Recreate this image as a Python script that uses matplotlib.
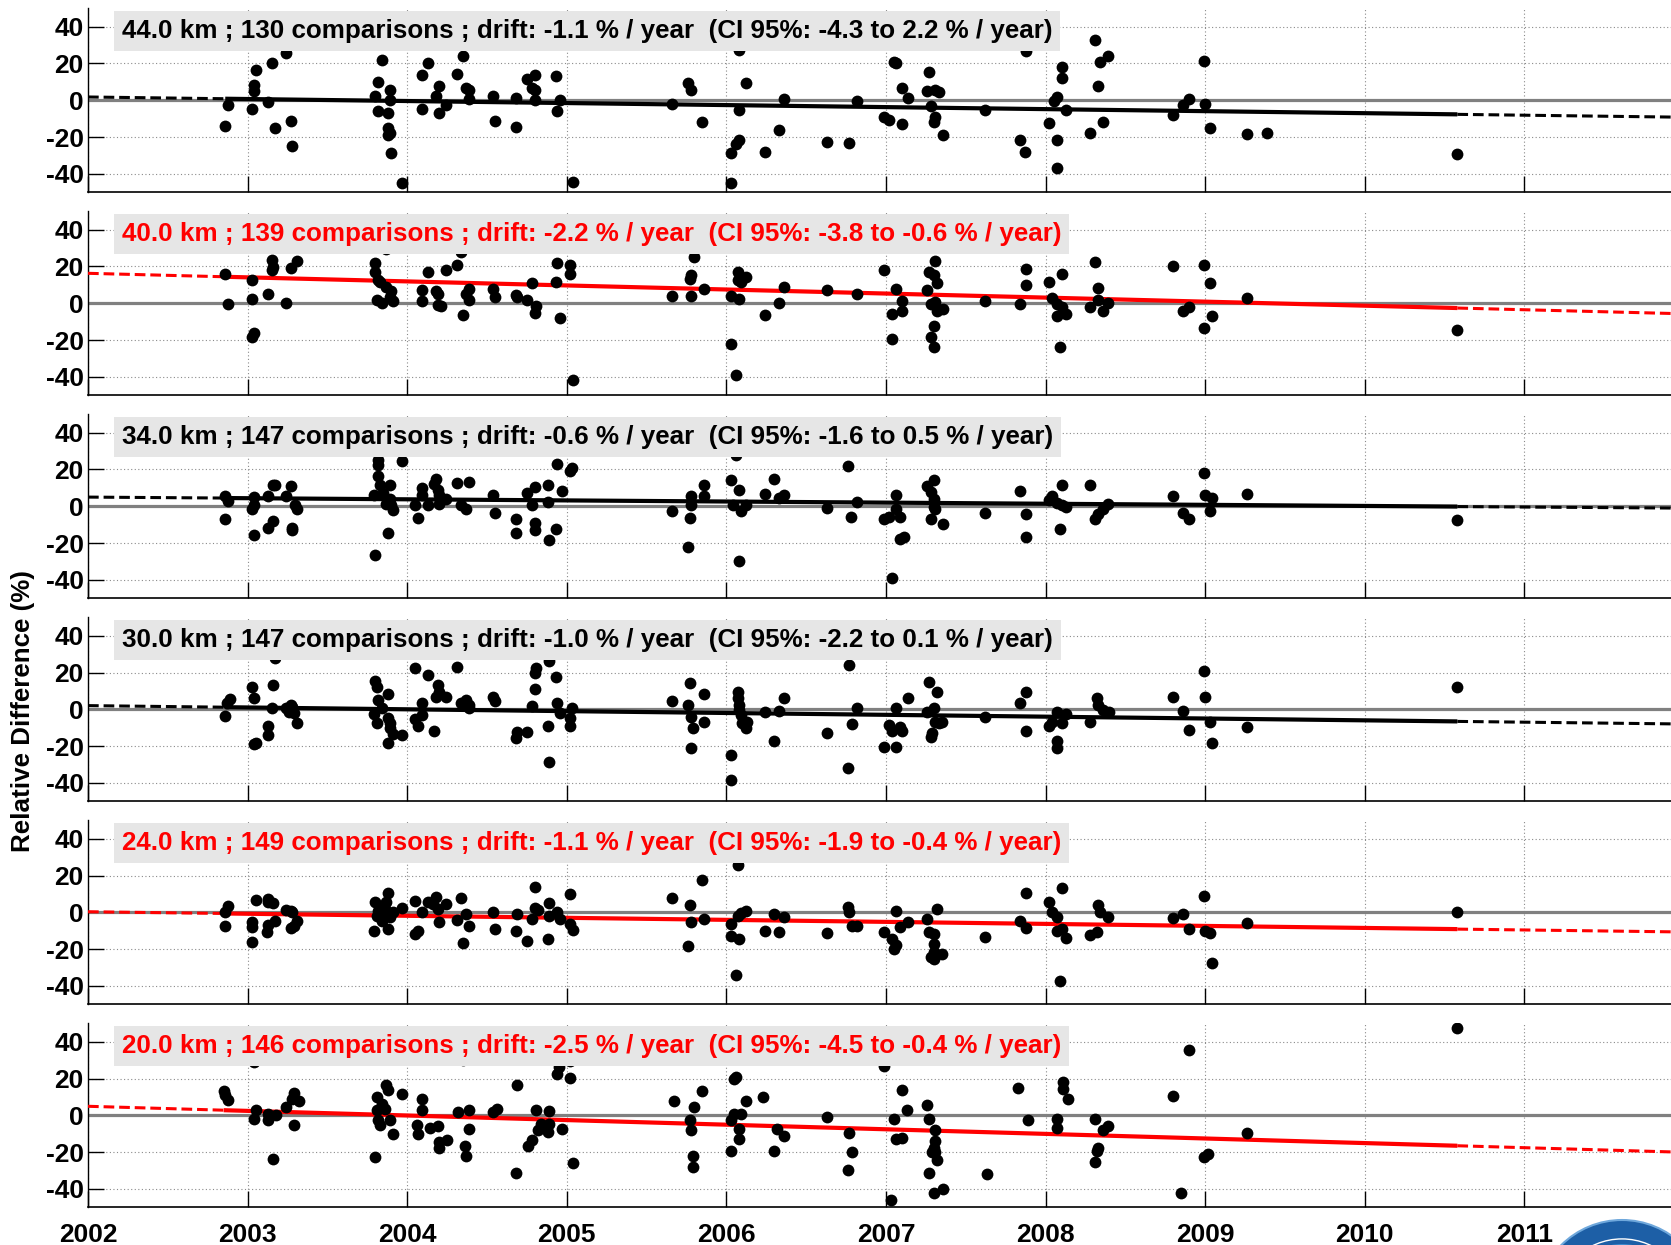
import numpy as np
import matplotlib
matplotlib.use("Agg")
import matplotlib.pyplot as plt
from matplotlib.patches import Circle

plt.rcParams["font.family"] = ["Liberation Sans", "DejaVu Sans"]
plt.rcParams["font.weight"] = "bold"

# ---------------------------------------------------------------- data
altitudes = [44.0, 40.0, 34.0, 30.0, 24.0, 20.0]
n_comparisons = [130, 139, 147, 147, 149, 146]
drift = [-1.1, -2.2, -0.6, -1.0, -1.1, -2.5]          # % / year
ci_low = [-4.3, -3.8, -1.6, -2.2, -1.9, -4.5]
ci_high = [2.2, -0.6, 0.5, 0.1, -0.4, -0.4]
fit_offset = [1.8, 16.3, 5.0, 2.0, 0.3, 4.9]          # fitted value at 2002.0

year_ticks = list(range(2002, 2012))
y_ticks = [-40, -20, 0, 20, 40]

t44 = [2002.86, 2002.88, 2003.03, 2003.04, 2003.04, 2003.05, 2003.13, 2003.15, 2003.17, 2003.24, 2003.27, 2003.28,
       2003.80, 2003.82, 2003.84, 2003.82, 2003.88, 2003.89, 2003.89, 2003.88, 2003.88, 2003.89, 2003.90, 2003.97,
       2004.09, 2004.09, 2004.13, 2004.18, 2004.20, 2004.20, 2004.24, 2004.31, 2004.35, 2004.37, 2004.39, 2004.39,
       2004.54, 2004.55, 2004.68, 2004.68, 2004.75, 2004.80, 2004.78, 2004.80, 2004.80, 2004.93, 2004.96, 2004.94, 2005.04,
       2005.66, 2005.76, 2005.78, 2005.85,
       2006.08, 2006.03, 2006.06, 2006.08, 2006.08, 2006.03, 2006.12, 2006.24, 2006.33, 2006.36, 2006.63, 2006.77, 2006.82,
       2006.99, 2007.02, 2007.05, 2007.06, 2007.10, 2007.10, 2007.14, 2007.27, 2007.26, 2007.31, 2007.33, 2007.28, 2007.31, 2007.30, 2007.36,
       2007.62, 2007.84, 2007.87, 2007.88, 2008.02, 2008.05, 2008.07, 2008.07, 2008.07, 2008.10, 2008.10, 2008.13,
       2008.28, 2008.31, 2008.34, 2008.39, 2008.33, 2008.36, 2008.80, 2008.86, 2008.90, 2008.99, 2009.00, 2009.03, 2009.26, 2009.39, 2010.58]
d44 = [-14.1, -2.4, -4.9, 5.1, 8.5, 16.7, -0.9, 20.1, -15.0, 25.9, -11.2, -24.8,
       2.2, -6.0, 21.7, 10.0, -6.7, 5.4, 0.0, -15.0, -19.0, -17.6, -28.4, -45.0,
       -4.7, 13.6, 20.0, 2.4, 7.8, -6.9, -2.7, 14.1, 23.9, 6.9, 5.8, 0.5,
       2.4, -11.2, 1.3, -14.5, 11.8, 13.6, 6.9, 5.4, 0.0, 13.2, 0.4, -6.0, -44.4,
       -2.2, 9.4, 5.8, -11.8,
       27.5, -28.4, -23.6, -21.4, -5.1, -45.0, 9.6, -28.1, -16.3, 0.5, -22.5, -23.4, -0.5,
       -9.0, -10.5, 20.8, 20.0, -12.7, 6.9, 1.4, 15.4, 5.1, 5.4, 4.5, -3.3, -9.0, -11.8, -18.8,
       -5.4, -21.7, -28.1, 26.6, -12.1, -0.5, 1.8, -21.7, -36.6, 18.1, 12.3, -5.1,
       -17.6, 33.0, 20.7, 23.9, 7.6, -12.0, -7.8, -2.4, 0.5, 21.6, -2.2, -15.0, -18.1, -17.8, -29.3]

t40 = [2002.86, 2002.88, 2003.03, 2003.03, 2003.03, 2003.04, 2003.13, 2003.15, 2003.16, 2003.15, 2003.24, 2003.27, 2003.31,
       2003.80, 2003.80, 2003.82, 2003.81, 2003.84, 2003.83, 2003.87, 2003.87, 2003.89, 2003.90, 2003.91,
       2004.09, 2004.09, 2004.13, 2004.18, 2004.19, 2004.19, 2004.21, 2004.24, 2004.31, 2004.34, 2004.35, 2004.37, 2004.39, 2004.39,
       2004.54, 2004.55, 2004.68, 2004.69, 2004.75, 2004.78, 2004.81, 2004.80, 2004.94, 2004.93, 2004.96, 2005.02, 2005.02, 2005.04,
       2005.66, 2005.77, 2005.78, 2005.80, 2005.78, 2005.86,
       2006.03, 2006.03, 2006.06, 2006.07, 2006.07, 2006.08, 2006.09, 2006.12, 2006.24, 2006.33, 2006.36, 2006.63, 2006.82,
       2006.99, 2007.04, 2007.04, 2007.06, 2007.10, 2007.10, 2007.26, 2007.27, 2007.31, 2007.30, 2007.32, 2007.28, 2007.31, 2007.32, 2007.36, 2007.28, 2007.30, 2007.30,
       2007.62, 2007.84, 2007.88, 2007.88, 2008.02, 2008.04, 2008.07, 2008.10, 2008.07, 2008.09, 2008.10, 2008.13,
       2008.28, 2008.31, 2008.33, 2008.33, 2008.36, 2008.39, 2008.80, 2008.86, 2008.90, 2008.99, 2008.99, 2009.03, 2009.04, 2009.26, 2010.58]
d40 = [15.7, -0.4, 12.8, 2.4, -18.3, -16.3, 5.1, 23.4, 19.7, 17.9, 0.0, 19.4, 22.9,
       21.9, 17.0, 12.8, 1.8, 0.0, 11.5, 29.3, 9.1, 3.3, 6.9, 1.5,
       7.3, 1.1, 17.0, 6.9, 5.1, -0.9, -1.3, 18.3, 20.7, 28.0, -6.2, 5.1, 7.9, 2.0,
       7.9, 3.3, 4.6, 3.3, 1.8, 11.0, -1.3, -5.5, 22.1, 11.5, -8.0, 20.7, 15.7, -41.5,
       4.2, 13.3, 4.2, 25.2, 15.2, 7.9,
       3.7, -22.3, -39.1, 17.0, 12.8, 2.4, 11.5, 14.3, -6.2, 0.0, 8.8, 7.3, 5.1,
       18.3, -5.9, -19.2, 7.9, 1.1, -4.0, 7.3, 17.0, 22.9, 15.2, 11.0, -0.4, 0.5, -4.0, -3.1, -18.3, -12.2, -23.8,
       1.1, -0.4, 9.7, 18.5, 11.5, 2.9, -0.4, 15.7, -6.8, -23.8, -1.8, -5.9,
       -1.8, 22.5, 8.4, 1.8, -4.0, 0.0, 20.1, -4.0, -2.2, 20.7, -13.2, 11.0, -6.8, 2.9, -14.4]

t34 = [2002.86, 2002.86, 2002.88, 2003.03, 2003.04, 2003.04, 2003.04, 2003.13, 2003.13, 2003.16, 2003.16, 2003.17, 2003.24, 2003.27, 2003.28, 2003.28, 2003.30, 2003.31,
       2003.79, 2003.80, 2003.82, 2003.82, 2003.82, 2003.83, 2003.85, 2003.88, 2003.89, 2003.87, 2003.89, 2003.90, 2003.91, 2003.97,
       2004.05, 2004.07, 2004.09, 2004.09, 2004.13, 2004.17, 2004.18, 2004.19, 2004.20, 2004.20, 2004.24, 2004.31, 2004.34, 2004.37, 2004.39,
       2004.54, 2004.55, 2004.68, 2004.68, 2004.75, 2004.78, 2004.80, 2004.80, 2004.80, 2004.88, 2004.88, 2004.89, 2004.93, 2004.94, 2004.97, 2005.02, 2005.03,
       2005.66, 2005.76, 2005.77, 2005.78, 2005.78, 2005.86, 2005.86,
       2006.03, 2006.04, 2006.06, 2006.08, 2006.08, 2006.09, 2006.12, 2006.24, 2006.30, 2006.33, 2006.36, 2006.63, 2006.76, 2006.78, 2006.82,
       2006.99, 2007.02, 2007.04, 2007.06, 2007.06, 2007.09, 2007.11, 2007.09, 2007.26, 2007.28, 2007.30, 2007.30, 2007.30, 2007.28, 2007.31, 2007.36,
       2007.62, 2007.84, 2007.88, 2007.88, 2008.02, 2008.04, 2008.07, 2008.09, 2008.10, 2008.10, 2008.13,
       2008.28, 2008.31, 2008.33, 2008.36, 2008.39, 2008.80, 2008.86, 2008.90, 2008.99, 2009.00, 2009.03, 2009.04, 2009.26, 2010.58]
d34 = [-7.1, 5.6, 2.7, -1.3, 5.1, 0.9, -15.4, 5.6, -11.8, -8.2, 11.4, 11.4, 5.6, 11.1, -11.8, -13.1, 0.5, -1.3,
       6.0, -26.7, 25.0, 22.7, 16.3, 11.4, 7.4, -14.5, 11.4, 1.5, 4.2, 0.5, -1.8, 24.5,
       0.5, -6.4, 10.0, 6.4, 0.9, 12.3, 15.1, 8.7, 6.4, 1.5, 3.8, 12.9, 0.9, -1.6, 13.2,
       6.4, -3.4, -6.7, -14.5, 7.4, 0.9, 10.5, -8.9, -13.1, 11.8, 2.4, -18.5, -12.2, 23.2, 8.2, 19.1, 20.9,
       -2.5, -22.1, -6.4, 5.6, 0.5, 11.8, 5.6,
       14.2, 0.5, 27.8, 8.7, -29.9, -2.7, 0.5, 6.9, 14.7, 4.5, 6.4, -0.9, 22.0, -5.8, 2.4,
       -6.7, -5.8, -39.0, 6.4, -1.3, -17.6, -16.7, -5.8, 10.9, 7.8, 14.2, 4.2, -0.4, -7.1, -1.3, -9.4,
       -3.4, 8.2, -16.7, -4.0, 3.3, 5.6, 2.0, -12.2, 11.4, 0.5, -0.4,
       11.8, -6.7, -4.0, -1.6, 1.5, 5.6, -3.4, -7.1, 18.1, 6.4, -2.7, 4.5, 6.9, -7.6]

t30 = [2002.86, 2002.87, 2002.89, 2003.04, 2003.05, 2003.03, 2003.04, 2003.13, 2003.13, 2003.16, 2003.17, 2003.15, 2003.24, 2003.26, 2003.27, 2003.28, 2003.29, 2003.31,
       2003.80, 2003.81, 2003.82, 2003.79, 2003.81, 2003.84, 2003.88, 2003.88, 2003.89, 2003.89, 2003.88, 2003.91, 2003.97,
       2004.05, 2004.05, 2004.07, 2004.09, 2004.09, 2004.13, 2004.17, 2004.18, 2004.19, 2004.20, 2004.24, 2004.31, 2004.34, 2004.37, 2004.39, 2004.39,
       2004.54, 2004.55, 2004.68, 2004.69, 2004.75, 2004.78, 2004.80, 2004.80, 2004.81, 2004.88, 2004.89, 2004.89, 2004.93, 2004.94, 2004.96, 2005.02, 2005.02, 2005.03,
       2005.66, 2005.76, 2005.77, 2005.78, 2005.79, 2005.78, 2005.86, 2005.86,
       2006.03, 2006.03, 2006.07, 2006.07, 2006.08, 2006.08, 2006.09, 2006.10, 2006.12, 2006.13, 2006.24, 2006.30, 2006.33, 2006.36, 2006.63, 2006.76, 2006.77, 2006.79, 2006.82,
       2006.99, 2007.02, 2007.04, 2007.06, 2007.06, 2007.09, 2007.10, 2007.14, 2007.26, 2007.27, 2007.28, 2007.29, 2007.30, 2007.31, 2007.32, 2007.33, 2007.35,
       2007.62, 2007.84, 2007.88, 2007.88, 2008.02, 2008.04, 2008.07, 2008.07, 2008.07, 2008.10, 2008.13,
       2008.28, 2008.32, 2008.33, 2008.36, 2008.40, 2008.80, 2008.86, 2008.90, 2008.99, 2009.00, 2009.03, 2009.04, 2009.26, 2010.58]
d30 = [-3.4, 3.3, 5.6, -19.1, -18.3, 12.3, 6.4, -8.9, -14.0, 13.2, 27.8, 0.9, 0.9, -1.3, 2.4, 1.5, -2.2, -7.6,
       15.4, 12.3, 5.1, -2.7, -7.6, 0.9, 8.2, -4.9, -10.3, -7.6, -18.5, -13.6, -14.0,
       22.7, -5.3, -8.9, -3.1, 3.3, 18.7, -11.8, 6.9, 13.2, 9.6, 6.9, 23.2, 3.3, 5.1, 2.4, 0.9,
       6.9, 4.5, -15.4, -12.5, -12.5, 2.0, 10.9, 19.6, 22.3, -8.9, -28.9, 26.3, 17.4, 3.6, -1.8, -4.5, -8.9, 0.5,
       4.5, 2.4, 14.2, -4.0, -10.3, -20.9, 8.2, -7.1,
       -24.9, -38.5, 9.6, 6.0, 2.4, -0.4, -3.1, -7.6, -10.0, -6.7, -1.6, -17.2, -0.9, 6.0, -13.1, -31.8, 24.1, -8.2, 0.9,
       -20.3, -8.5, -11.8, -20.3, 0.9, -9.4, -11.8, 6.0, -1.3, 14.7, -14.9, -13.1, 0.5, -6.7, 9.6, -7.6, -6.7,
       -4.0, 3.3, 9.3, -11.8, -8.9, -6.7, -1.3, -17.2, -20.9, -7.6, -2.7,
       -6.7, 6.0, 2.4, -0.4, -1.3, 6.9, -0.9, -11.2, 20.9, 6.9, -6.7, -18.5, -9.4, 12.0]

t24 = [2002.86, 2002.86, 2002.88, 2003.03, 2003.03, 2003.03, 2003.05, 2003.13, 2003.13, 2003.16, 2003.13, 2003.12, 2003.17, 2003.24, 2003.27, 2003.28, 2003.27, 2003.29, 2003.31,
       2003.80, 2003.79, 2003.81, 2003.82, 2003.83, 2003.84, 2003.85, 2003.86, 2003.87, 2003.88, 2003.88, 2003.89, 2003.91, 2003.97,
       2004.05, 2004.05, 2004.07, 2004.09, 2004.13, 2004.16, 2004.18, 2004.19, 2004.20, 2004.24, 2004.31, 2004.34, 2004.35, 2004.37, 2004.39,
       2004.54, 2004.55, 2004.68, 2004.69, 2004.75, 2004.78, 2004.80, 2004.80, 2004.82, 2004.88, 2004.89, 2004.89, 2004.94, 2004.96, 2005.02, 2005.02, 2005.04,
       2005.66, 2005.76, 2005.77, 2005.78, 2005.85, 2005.86,
       2006.03, 2006.03, 2006.06, 2006.07, 2006.07, 2006.08, 2006.09, 2006.12, 2006.24, 2006.30, 2006.33, 2006.36, 2006.63, 2006.76, 2006.77, 2006.79, 2006.82,
       2006.99, 2007.04, 2007.05, 2007.06, 2007.06, 2007.09, 2007.14, 2007.26, 2007.27, 2007.30, 2007.30, 2007.28, 2007.30, 2007.30, 2007.32, 2007.35,
       2007.62, 2007.84, 2007.88, 2007.88, 2008.02, 2008.04, 2008.07, 2008.07, 2008.09, 2008.10, 2008.10, 2008.13,
       2008.28, 2008.32, 2008.33, 2008.34, 2008.39, 2008.80, 2008.86, 2008.90, 2008.99, 2009.00, 2009.03, 2009.04, 2009.26, 2010.58]
d24 = [-7.6, 0.4, 3.3, -5.1, -8.2, -16.4, 6.9, 7.3, 5.5, 5.1, -6.9, -10.9, -4.5, 1.5, 0.9, 0.4, -8.7, -7.3, -4.5,
       5.5, -10.0, -1.8, 0.9, 3.6, -4.5, -0.9, 1.8, 5.5, -9.1, 10.4, -2.7, 0.0, 2.2,
       6.4, -11.8, -10.0, 0.4, 5.5, 4.5, 8.2, 1.8, -5.5, 4.5, -4.0, 7.6, -16.7, -0.9, -7.3,
       0.4, -9.1, -10.0, -0.9, -15.5, -3.6, 13.6, 2.2, 1.5, -14.5, 5.1, -1.8, 0.4, -3.6, 10.0, -6.4, -9.5,
       7.6, -18.5, 4.0, -5.1, 17.3, -3.6,
       -6.4, -13.1, -34.0, 25.8, -1.8, -14.5, -0.4, 0.7, -10.0, -0.9, -10.5, -2.7, -11.3, 2.7, 0.4, -7.3, -7.6,
       -10.5, -14.5, -20.0, -17.8, 0.9, -8.2, -5.5, -3.6, -10.9, -17.3, -11.8, -24.5, -21.8, -25.5, 1.8, -22.7,
       -13.6, -4.5, 10.5, -8.7, 5.8, 0.0, -2.7, -10.0, -37.3, 13.1, -9.1, -14.2,
       -12.4, -10.5, 4.0, 0.4, -2.7, -3.3, -0.9, -9.1, 8.7, -10.0, -11.3, -27.3, -6.0, 0.0]

t20 = [2002.85, 2002.86, 2002.88, 2003.04, 2003.05, 2003.04, 2003.13, 2003.13, 2003.16, 2003.18, 2003.24, 2003.28, 2003.29, 2003.29, 2003.32,
       2003.80, 2003.81, 2003.81, 2003.82, 2003.83, 2003.84, 2003.86, 2003.87, 2003.88, 2003.89, 2003.91, 2003.97,
       2004.06, 2004.07, 2004.09, 2004.09, 2004.14, 2004.19, 2004.20, 2004.20, 2004.25, 2004.32, 2004.35, 2004.36, 2004.37, 2004.39, 2004.39,
       2004.54, 2004.56, 2004.68, 2004.69, 2004.76, 2004.78, 2004.81, 2004.82, 2004.84, 2004.88, 2004.89, 2004.89, 2004.94, 2004.95, 2004.97, 2005.02, 2005.02, 2005.04,
       2005.67, 2005.77, 2005.78, 2005.79, 2005.79, 2005.80, 2005.85,
       2006.03, 2006.03, 2006.05, 2006.05, 2006.06, 2006.08, 2006.08, 2006.09, 2006.12, 2006.23, 2006.30, 2006.32, 2006.36,
       2006.63, 2006.77, 2006.79, 2006.76, 2006.99, 2007.03, 2007.05, 2007.06, 2007.10, 2007.10, 2007.13,
       2007.26, 2007.27, 2007.31, 2007.31, 2007.30, 2007.29, 2007.31, 2007.32, 2007.27, 2007.30, 2007.36, 2007.63,
       2007.83, 2007.89, 2008.07, 2008.07, 2008.11, 2008.11, 2008.14, 2008.31, 2008.33, 2008.32, 2008.31, 2008.36, 2008.39,
       2008.80, 2008.85, 2008.90, 2008.99, 2009.02, 2009.26, 2010.58]
d20 = [13.1, 10.8, 8.1, 28.8, 3.1, -1.8, 0.9, -2.3, -23.9, 0.0, 4.5, 9.0, 12.1, -5.4, 7.7,
       -22.8, 9.9, 2.7, -2.7, -5.4, 6.3, 3.6, 16.2, 13.8, -2.7, -9.9, 11.7,
       -5.4, -9.9, 9.0, 2.7, -6.7, -5.9, -14.4, -18.0, -13.5, 1.8, 30.0, -16.7, -22.1, -7.2, 3.1,
       1.8, 3.6, -31.5, 16.2, -16.7, -13.5, 2.7, -8.1, -4.5, -9.0, -4.9, 2.3, 22.5, 26.1, -7.2, 29.3, 20.3, -26.1,
       7.7, -2.3, -8.1, -22.1, -27.9, 4.5, 13.1,
       -19.2, -2.3, 19.8, 0.5, 20.7, -7.2, -13.1, 0.5, 7.7, 9.9, -19.2, -7.2, -11.3,
       -0.9, -9.5, -19.8, -29.7, 26.6, -46.0, -1.8, -13.1, -12.6, 13.8, 2.7,
       5.4, -1.8, -8.1, -13.8, -18.0, -19.8, -19.8, -24.3, -31.1, -42.3, -40.1, -32.0,
       14.9, -2.7, -1.8, -6.7, 18.0, 14.4, 8.6, -1.8, -18.0, -19.2, -25.2, -8.1, -5.9,
       10.3, -42.3, 35.6, -22.8, -21.0, -9.5, 47.3]

times = [t44, t40, t34, t30, t24, t20]
values = [d44, d40, d34, d30, d24, d20]

# ---------------------------------------------------------------- layout
W, H = 1671, 1245
fig = plt.figure(figsize=(W / 100, H / 100), dpi=100)

x_left_px = 88
px_per_year = 159.6
x_min = 2002.0
x_max = x_min + (W - x_left_px) / px_per_year
panel_h_px = 184
panel_step_px = 203
first_top_px = 8.3

FS = 18.7
BLACK = "#000000"
RED = "#ff0000"

for k in range(6):
    top_px = first_top_px + panel_step_px * k
    ax = fig.add_axes([x_left_px / W, 1 - (top_px + panel_h_px) / H,
                       (W - x_left_px) / W, panel_h_px / H])
    ax.set_xlim(x_min, x_max)
    ax.set_ylim(-50, 50)

    for s in ("top", "right"):
        ax.spines[s].set_visible(False)
    ax.spines["left"].set_linewidth(1.0)
    ax.spines["bottom"].set_linewidth(1.2)

    ax.set_xticks(year_ticks)
    ax.set_yticks(y_ticks)
    ax.tick_params(axis="both", direction="in", length=11.5, width=1.0,
                   labelsize=19, colors=BLACK)
    ax.tick_params(axis="y", pad=3)
    ax.tick_params(axis="x", pad=11)
    if k < 5:
        ax.set_xticklabels([])
    else:
        ax.set_xticklabels([str(y) for y in year_ticks])
    ax.set_yticklabels([str(v) for v in y_ticks])
    for lab in ax.get_xticklabels() + ax.get_yticklabels():
        lab.set_fontweight("bold")

    ax.grid(True, color="#8a8a8a", linestyle=(0, (1, 2.2)), linewidth=0.8)
    ax.set_axisbelow(True)

    # zero reference
    ax.axhline(0, color="#808080", linewidth=2.3, zorder=2)

    color = RED if ci_high[k] < 0 else BLACK
    t = np.array(times[k])
    v = np.array(values[k])

    # linear drift: solid over the data span, dashed extrapolation to the edges
    def fit(x):
        return fit_offset[k] + drift[k] * (np.asarray(x) - x_min)

    t0, t1 = t.min(), t.max()
    xs = np.array([t0, t1])
    ax.plot(xs, fit(xs), color=color, linewidth=3.0, solid_capstyle="butt", zorder=3)
    for a, b in ((x_min, t0), (t1, x_max)):
        xe = np.array([a, b])
        ax.plot(xe, fit(xe), color=color, linewidth=2.2, linestyle=(0, (3.5, 1.6)), zorder=3)

    ax.plot(t, v, linestyle="none", marker="o", markersize=8.5, color=BLACK,
            markeredgewidth=0, zorder=4)

    label = (f"{altitudes[k]:.1f} km ; {n_comparisons[k]} comparisons ; "
             f"drift: {drift[k]:.1f} % / year  (CI 95%: {ci_low[k]:.1f} to "
             f"{ci_high[k]:.1f} % / year)")
    ax.text((122 - x_left_px) / (W - x_left_px), 1 - 22.5 / panel_h_px, label,
            transform=ax.transAxes, ha="left", va="center", fontsize=FS,
            fontweight="bold", color=color, zorder=10,
            bbox=dict(boxstyle="square,pad=0.3", facecolor="#e6e6e6", edgecolor="none"))

fig.text(23 / W, 1 - 711 / H, "Relative Difference (%)", rotation=90,
         ha="center", va="center", fontsize=FS, fontweight="bold")

# network emblem in the lower right corner
logo = fig.add_axes([0, 0, 1, 1], zorder=-1)
logo.set_xlim(0, W)
logo.set_ylim(H, 0)
logo.axis("off")
logo.patch.set_alpha(0)
cx, cy, r = 1622, 1306, 86
logo.add_patch(Circle((cx, cy), r, facecolor="#1d5fa6", edgecolor="#6fa8dc", linewidth=1.5))
logo.add_patch(Circle((cx, cy), r * 0.78, facecolor="none", edgecolor="white", linewidth=1.0))
logo.add_patch(Circle((cx, cy), r * 0.72, facecolor="#3f8fd2", edgecolor="none"))

fig.savefig("out.png", dpi=100)
